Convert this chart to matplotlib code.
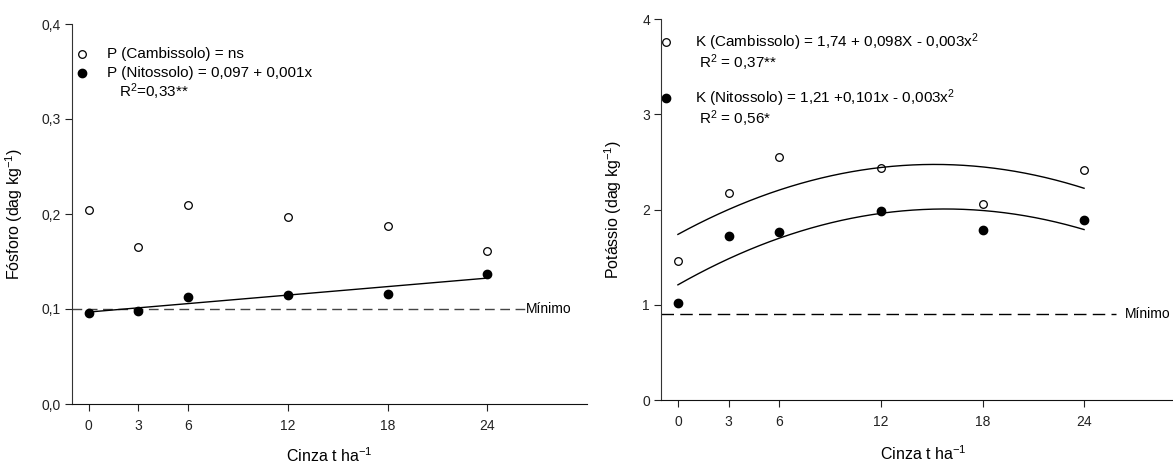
import numpy as np
import matplotlib
matplotlib.use("Agg")
import matplotlib.pyplot as plt

plt.rcParams['font.family'] = ['Liberation Sans', 'DejaVu Sans']
plt.rcParams['mathtext.default'] = 'regular'

#-- Data

cinza = [0, 3, 6, 12, 18, 24]
x_ticks = [0, 3, 6, 12, 18, 24]

p_cambissolo = [0.204, 0.165, 0.210, 0.197, 0.187, 0.161]
p_nitossolo = [0.096, 0.098, 0.113, 0.115, 0.1155, 0.137]
p_minimo = 0.1

k_cambissolo = [1.46, 2.18, 2.55, 2.44, 2.055, 2.42]
k_nitossolo = [1.02, 1.72, 1.76, 1.985, 1.785, 1.89]
k_minimo = 0.9

# quadratic curves as drawn in the figure (a, b, c)
k_camb_coef = [1.74, 0.097, -0.0032]
k_nito_coef = [1.21, 0.101, -0.0032]

p_yticks = [0.0, 0.1, 0.2, 0.3, 0.4]
p_yticklabels = ['0,0', '0,1', '0,2', '0,3', '0,4']
k_yticks = [0, 1, 2, 3, 4]


def style_axis(ax):
    for side in ['top', 'right']:
        ax.spines[side].set_visible(False)
    ax.spines['left'].set_color('#333333')
    ax.spines['bottom'].set_color('#111111')
    ax.tick_params(direction='out', length=5, width=0.8, labelsize=10,
                   colors='#222222')
    ax.tick_params(axis='x', pad=6)
    ax.tick_params(axis='y', pad=3)
    ax.set_xlim(-1, 30)
    ax.set_xticks(x_ticks)


fig = plt.figure(figsize=(11.73, 4.68), dpi=100)

#-- Left panel: Fosforo
ax1 = fig.add_axes([72 / 1173, 64 / 468, 515 / 1173, 380 / 468])
style_axis(ax1)
ax1.set_ylim(0, 0.4)
ax1.set_yticks(p_yticks)
ax1.set_yticklabels(p_yticklabels)

ax1.plot([-1, 26.3], [p_minimo, p_minimo], color='#444444', lw=1.0,
         dashes=(7, 4))
ax1.text(26.3, p_minimo, 'Mínimo', fontsize=10, va='center', ha='left')

ax1.plot(cinza, p_cambissolo, 'o', ms=5.5, mfc='white', mec='black', mew=0.9)
ax1.plot(cinza, p_nitossolo, 'o', ms=6, mfc='black', mec='black')

slope, intercept = np.polyfit(cinza, p_nitossolo, 1)
xs = np.array([0, 24])
ax1.plot(xs, intercept + slope * xs, color='black', lw=1.0)

ax1.plot([0.019], [0.921], 'o', ms=5.5, mfc='white', mec='black', mew=0.9,
         transform=ax1.transAxes, clip_on=False)
ax1.plot([0.019], [0.871], 'o', ms=6, mfc='black', mec='black',
         transform=ax1.transAxes, clip_on=False)
ax1.text(0.068, 0.921, 'P (Cambissolo) = ns', fontsize=11, va='center',
         transform=ax1.transAxes)
ax1.text(0.068, 0.871, 'P (Nitossolo) = 0,097 + 0,001x', fontsize=11,
         va='center', transform=ax1.transAxes)
ax1.text(0.091, 0.822, 'R$^{2}$=0,33**', fontsize=11, va='center',
         transform=ax1.transAxes)

ax1.set_ylabel('Fósforo (dag kg$^{-1}$)', fontsize=11.5)
ax1.yaxis.set_label_coords(-0.091, 0.5)
ax1.set_xlabel('Cinza t ha$^{-1}$', fontsize=11.5)
ax1.xaxis.set_label_coords(0.5, -0.112)

#-- Right panel: Potassio
ax2 = fig.add_axes([661 / 1173, 68 / 468, 524.6 / 1173, 380.7 / 468])
style_axis(ax2)
ax2.set_ylim(0, 4)
ax2.set_yticks(k_yticks)

ax2.plot([-1, 25.9], [k_minimo, k_minimo], color='black', lw=1.0,
         dashes=(9, 4.5))
ax2.text(26.4, k_minimo, 'Mínimo', fontsize=10, va='center', ha='left',
         clip_on=False)

ax2.plot(cinza, k_cambissolo, 'o', ms=5.5, mfc='white', mec='black', mew=0.9)
ax2.plot(cinza, k_nitossolo, 'o', ms=6, mfc='black', mec='black')

xc = np.linspace(0, 24, 200)
for coef in [k_camb_coef, k_nito_coef]:
    a, b, c = coef
    ax2.plot(xc, a + b * xc + c * xc ** 2, color='black', lw=1.0)

ax2.plot([0.009], [0.94], 'o', ms=5.5, mfc='white', mec='black', mew=0.9,
         transform=ax2.transAxes, clip_on=False)
ax2.plot([0.009], [0.794], 'o', ms=6, mfc='black', mec='black',
         transform=ax2.transAxes, clip_on=False)
ax2.text(0.065, 0.94, 'K (Cambissolo) = 1,74 + 0,098X - 0,003x$^{2}$',
         fontsize=11, va='center', transform=ax2.transAxes)
ax2.text(0.073, 0.885, 'R$^{2}$ = 0,37**', fontsize=11, va='center',
         transform=ax2.transAxes)
ax2.text(0.065, 0.794, 'K (Nitossolo) = 1,21 +0,101x - 0,003x$^{2}$',
         fontsize=11, va='center', transform=ax2.transAxes)
ax2.text(0.073, 0.739, 'R$^{2}$ = 0,56*', fontsize=11, va='center',
         transform=ax2.transAxes)

ax2.set_ylabel('Potássio (dag kg$^{-1}$)', fontsize=11.5)
ax2.yaxis.set_label_coords(-0.071, 0.5)
ax2.set_xlabel('Cinza t ha$^{-1}$', fontsize=11.5)
ax2.xaxis.set_label_coords(0.5, -0.117)

fig.savefig('out.png', dpi=100)
